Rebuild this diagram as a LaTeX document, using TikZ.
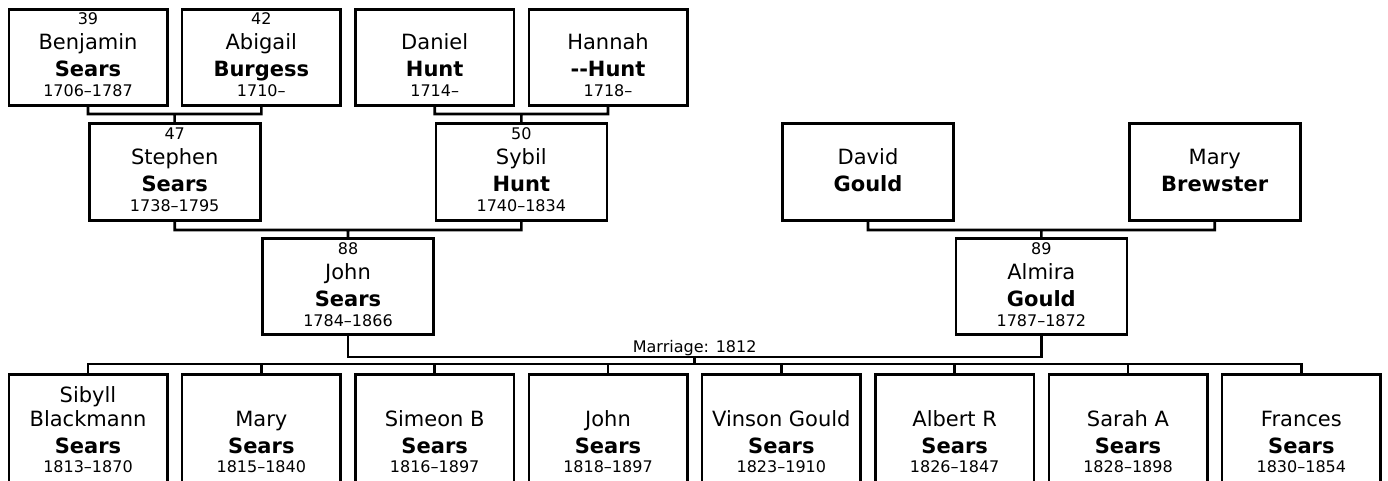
\documentclass[tikz,border=0pt]{standalone}
\usepackage{fontspec}
\setmainfont{DejaVu Sans}
\usetikzlibrary{calc}
\tikzset{
  card/.style={draw, line width=2.6pt, inner sep=0pt, outer sep=0pt, minimum height=96.4pt},
  wide/.style={card, minimum width=171pt},
  narrow/.style={card, minimum width=158.4pt},
  kid/.style={card, minimum width=158.4pt, minimum height=150pt, anchor=north},
  numtxt/.style={anchor=base, inner sep=0pt, font=\fontsize{16}{19}\selectfont},
  nametxt/.style={anchor=base, inner sep=0pt, font=\fontsize{21}{25}\selectfont},
  surtxt/.style={nametxt, font=\fontsize{21}{25}\selectfont\bfseries},
  wire/.style={line width=2.6pt},
}
\newcommand{\cardlines}[5]{%
  \path (#1.center) +(0,-32.5) node[numtxt] (#1-no) {#2}
    +(0,-7.5) node[nametxt] (#1-gn) {#3}
    +(0,19.5) node[surtxt] (#1-sn) {#4}
    +(0,39.5) node[numtxt] (#1-yr) {#5};}

\begin{document}
\begin{tikzpicture}[x=1pt, y=-1pt]
\useasboundingbox (0,0) rectangle (1388,481);
\clip (0,0) rectangle (1388,481);
% grandparents
\node[narrow] (benjamin) at (88,57.5) {};
\node[narrow] (abigail) at (261.3,57.5) {};
\node[narrow] (daniel) at (434.7,57.5) {};
\node[narrow] (hannah) at (608,57.5) {};
\cardlines{benjamin}{39}{Benjamin}{Sears}{1706--1787}
\cardlines{abigail}{42}{Abigail}{Burgess}{1710--}
\cardlines{daniel}{}{Daniel}{Hunt}{1714--}
\cardlines{hannah}{}{Hannah}{-{}-Hunt}{1718--}
% parents of the couple
\node[wide] (stephen) at (174.7,172) {};
\node[wide] (sybil) at (521.3,172) {};
\node[wide] (david) at (868,172) {};
\node[wide] (brewster) at (1214.7,172) {};
\cardlines{stephen}{47}{Stephen}{Sears}{1738--1795}
\cardlines{sybil}{50}{Sybil}{Hunt}{1740--1834}
\cardlines{david}{}{David}{Gould}{}
\cardlines{brewster}{}{Mary}{Brewster}{}
% the couple
\node[wide] (john) at (348,286.5) {};
\node[wide] (almira) at (1041.3,286.5) {};
\cardlines{john}{88}{John}{Sears}{1784--1866}
\cardlines{almira}{89}{Almira}{Gould}{1787--1872}
\coordinate (bs) at ($(benjamin.south)!.5!(abigail.south)+(0,8.3)$);
\coordinate (dh) at ($(daniel.south)!.5!(hannah.south)+(0,8.3)$);
\coordinate (ss) at ($(stephen.south)!.5!(sybil.south)+(0,9.8)$);
\coordinate (db) at ($(david.south)!.5!(brewster.south)+(0,9.8)$);
\coordinate (wed) at ($(john.south)!.5!(almira.south)+(0,22.3)$);
\coordinate (kids) at ($(wed)+(0,7)$);
\draw[wire] (benjamin.south) |- (bs) -| (abigail.south) (bs) -- (stephen.north);
\draw[wire] (daniel.south) |- (dh) -| (hannah.south) (dh) -- (sybil.north);
\draw[wire] (stephen.south) |- (ss) -| (sybil.south) (ss) -- (john.north);
\draw[wire] (david.south) |- (db) -| (brewster.south) (db) -- (almira.north);
\draw[wire] (john.south) |- (wed) -| (almira.south) (wed) -- (kids);
\node[numtxt] (wedtxt) at ($(wed)+(0,-4.7)$) {Marriage: 1812};
% children
\foreach \nm/\k/\extra/\given/\yrs in {sibyll/0/Sibyll/Blackmann/1813--1870, mary/1//Mary/1815--1840,
    simeon/2//Simeon B/1816--1897, johnjr/3//John/1818--1897, vinson/4//Vinson Gould/1823--1910,
    albert/5//Albert R/1826--1847, sarah/6//Sarah A/1828--1898, frances/7//Frances/1830--1854}{
  \node[kid] (\nm) at (88+173.333*\k,374.3) {};
  \node[nametxt] (\nm-ex) at (88+173.333*\k,402) {\extra};
  \node[nametxt] (\nm-gn) at (88+173.333*\k,426) {\given};
  \node[surtxt] (\nm-sn) at (88+173.333*\k,453) {Sears};
  \node[numtxt] (\nm-yr) at (88+173.333*\k,472) {\yrs};
  \draw[wire] (\nm.north) -- (\nm.north |- kids);
}
\draw[wire] (sibyll.north) |- (kids) -| (frances.north);
\end{tikzpicture}
\end{document}
